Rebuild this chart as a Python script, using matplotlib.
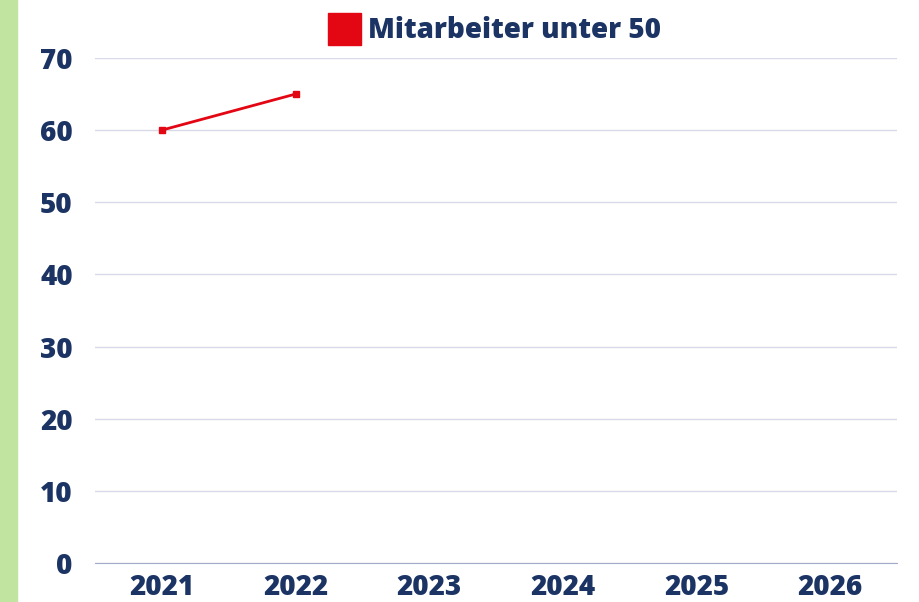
import matplotlib
matplotlib.use("Agg")
import matplotlib.pyplot as plt
from matplotlib.patches import Rectangle

plt.rcParams['font.family'] = ['Open Sans', 'DejaVu Sans']

years = ['2021', '2022', '2023', '2024', '2025', '2026']
values = [60, 65]
series_name = 'Mitarbeiter unter 50'

NAVY = '#1b3464'
RED = '#e30613'
FS = 20

fig = plt.figure(figsize=(9.19, 6.02), dpi=100)
fig.patches.append(Rectangle((0, 0), 17 / 919, 1, transform=fig.transFigure,
                             color='#c1e4a0', zorder=0))
ax = fig.add_axes([95 / 919, (602 - 563) / 602, (897 - 95) / 919, (563 - 58) / 602])

x = [i + 0.5 for i in range(len(values))]
ax.plot(x, values, color=RED, lw=2, marker='s', ms=5, label=series_name)

ax.set_xlim(0, len(years))
ax.set_ylim(0, 70)
ax.set_yticks(range(0, 71, 10))
ax.set_xticks([i + 0.5 for i in range(len(years))])
ax.set_xticklabels(years)
ax.grid(axis='y', color='#d9dae8', lw=1)
ax.set_axisbelow(True)
for s in ['top', 'right', 'left']:
    ax.spines[s].set_visible(False)
ax.spines['bottom'].set_color('#a3aacb')
ax.tick_params(length=0, labelsize=FS, labelcolor=NAVY, pad=7.5)
ax.tick_params(axis='y', pad=16)
for lbl in ax.get_xticklabels() + ax.get_yticklabels():
    lbl.set_fontweight(800)

fig.patches.append(Rectangle((328 / 919, 1 - 45 / 602), 33 / 919, 32 / 602,
                             transform=fig.transFigure, color=RED))
fig.text(368 / 919, 1 - 30 / 602, series_name, color=NAVY, fontsize=FS,
         fontweight=800, va='center', ha='left')

fig.savefig('out.png', dpi=100, facecolor='white')
